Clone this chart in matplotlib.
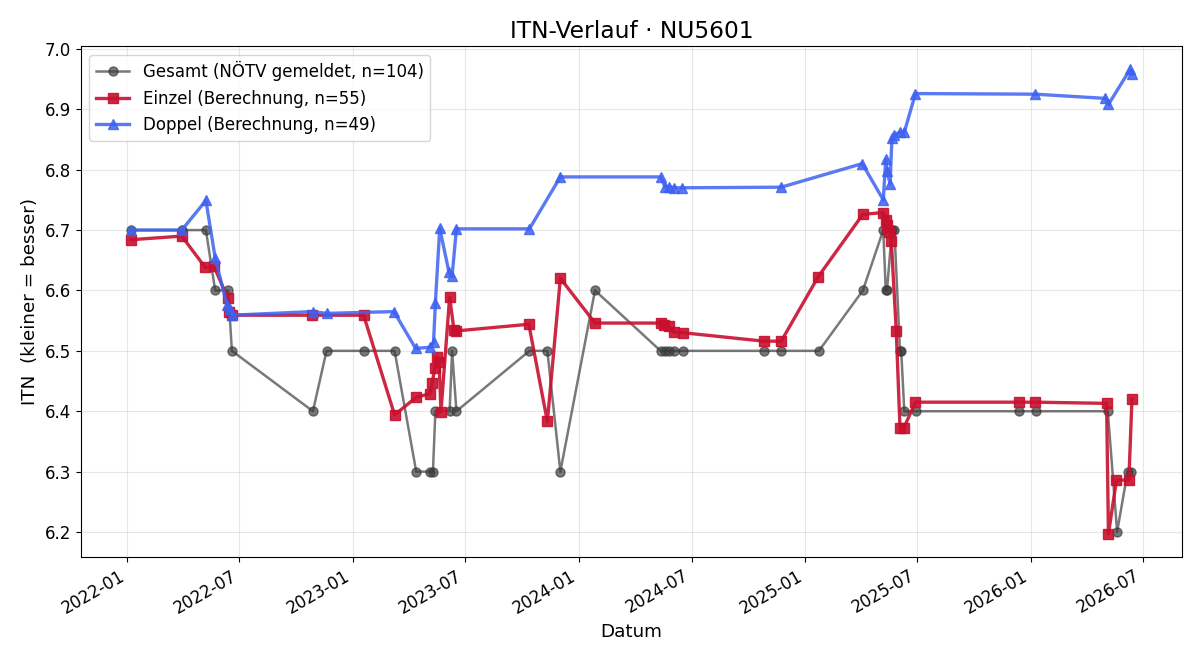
import matplotlib
matplotlib.use("Agg")
import matplotlib.pyplot as plt
import matplotlib.dates as mdates
import pandas as pd

# ---- data ----
gesamt_dates = [
    "2022-01-07", "2022-03-30", "2022-05-08", "2022-05-23", "2022-06-13", "2022-06-19",
    "2022-10-28", "2022-11-19", "2023-01-18", "2023-03-09", "2023-04-13", "2023-05-06",
    "2023-05-10", "2023-05-14", "2023-06-06", "2023-06-10", "2023-06-17", "2023-10-13",
    "2023-11-11", "2023-12-02", "2024-01-27", "2024-05-12", "2024-05-19", "2024-05-25",
    "2024-06-02", "2024-06-17", "2024-10-26", "2024-11-23", "2025-01-23", "2025-04-04",
    "2025-05-07", "2025-05-11", "2025-05-13", "2025-05-21", "2025-05-25", "2025-06-03",
    "2025-06-05", "2025-06-10", "2025-06-29", "2025-12-12", "2026-01-09", "2026-05-05",
    "2026-05-20", "2026-06-06", "2026-06-12",
]
gesamt_values = [
    6.7, 6.7, 6.7, 6.6, 6.6, 6.5,
    6.4, 6.5, 6.5, 6.5, 6.3, 6.3,
    6.3, 6.4, 6.4, 6.5, 6.4, 6.5,
    6.5, 6.3, 6.6, 6.5, 6.5, 6.5,
    6.5, 6.5, 6.5, 6.5, 6.5, 6.6,
    6.7, 6.6, 6.6, 6.7, 6.7, 6.5,
    6.5, 6.4, 6.4, 6.4, 6.4, 6.4,
    6.2, 6.3, 6.3,
]

einzel_dates = [
    "2022-01-07", "2022-03-30", "2022-05-07", "2022-05-21", "2022-06-12", "2022-06-14",
    "2022-06-19", "2022-10-27", "2023-01-18", "2023-03-09", "2023-04-13", "2023-05-05",
    "2023-05-09", "2023-05-13", "2023-05-16", "2023-05-20", "2023-05-23", "2023-06-06",
    "2023-06-13", "2023-06-17", "2023-10-12", "2023-11-11", "2023-12-02", "2024-01-27",
    "2024-05-12", "2024-05-17", "2024-05-25", "2024-06-02", "2024-06-17", "2024-10-26",
    "2024-11-23", "2025-01-22", "2025-04-04", "2025-05-07", "2025-05-11", "2025-05-13",
    "2025-05-17", "2025-05-20", "2025-05-28", "2025-06-03", "2025-06-09", "2025-06-28",
    "2025-12-12", "2026-01-08", "2026-05-03", "2026-05-06", "2026-05-19", "2026-06-08",
    "2026-06-13",
]
einzel_values = [
    6.684, 6.690, 6.638, 6.640, 6.588, 6.565,
    6.559, 6.559, 6.559, 6.394, 6.423, 6.429,
    6.447, 6.472, 6.490, 6.481, 6.399, 6.589,
    6.535, 6.533, 6.544, 6.383, 6.620, 6.546,
    6.546, 6.543, 6.541, 6.531, 6.530, 6.516,
    6.516, 6.623, 6.726, 6.729, 6.717, 6.708,
    6.696, 6.682, 6.533, 6.373, 6.372, 6.415,
    6.415, 6.415, 6.413, 6.197, 6.286, 6.286,
    6.420,
]

doppel_dates = [
    "2022-01-07", "2022-03-30", "2022-05-08", "2022-05-23", "2022-06-11", "2022-06-16",
    "2022-06-19", "2022-10-28", "2022-11-19", "2023-03-08", "2023-04-12", "2023-05-06",
    "2023-05-11", "2023-05-14", "2023-05-21", "2023-06-05", "2023-06-10", "2023-06-17",
    "2023-10-13", "2023-12-02", "2024-05-12", "2024-05-19", "2024-05-25", "2024-06-02",
    "2024-06-16", "2024-11-23", "2025-04-03", "2025-05-07", "2025-05-11", "2025-05-13",
    "2025-05-18", "2025-05-21", "2025-05-25", "2025-06-03", "2025-06-10", "2025-06-28",
    "2026-01-08", "2026-05-01", "2026-05-06", "2026-06-10", "2026-06-13",
]
doppel_values = [
    6.700, 6.700, 6.749, 6.654, 6.576, 6.570,
    6.559, 6.565, 6.562, 6.565, 6.504, 6.506,
    6.514, 6.580, 6.703, 6.630, 6.624, 6.702,
    6.702, 6.788, 6.788, 6.772, 6.772, 6.770,
    6.770, 6.771, 6.810, 6.750, 6.817, 6.797,
    6.777, 6.853, 6.858, 6.862, 6.862, 6.926,
    6.925, 6.918, 6.908, 6.966, 6.958,
]

legend_labels = [
    "Gesamt (NÖTV gemeldet, n=104)",
    "Einzel (Berechnung, n=55)",
    "Doppel (Berechnung, n=49)",
]

# ---- plot ----
fig, ax = plt.subplots(figsize=(12, 6.6), dpi=100)
fig.subplots_adjust(left=0.0675, right=0.985, top=0.930, bottom=0.156)

ax.plot(pd.to_datetime(gesamt_dates), gesamt_values, "-o", color="#3a3a3a",
        alpha=0.68, lw=1.8, ms=6.5, label=legend_labels[0], zorder=2)
ax.plot(pd.to_datetime(einzel_dates), einzel_values, "-s", color="#C8102E",
        alpha=0.9, lw=2.4, ms=7, label=legend_labels[1], zorder=3)
ax.plot(pd.to_datetime(doppel_dates), doppel_values, "-^", color="#3d62f2",
        alpha=0.85, lw=2.4, ms=7, label=legend_labels[2], zorder=4)

ax.set_title("ITN-Verlauf · NU5601", fontsize=16.8)
ax.set_xlabel("Datum", fontsize=13.2)
ax.set_ylabel("ITN  (kleiner = besser)", fontsize=13.2)
ax.grid(True, alpha=0.3)

ax.xaxis.set_major_locator(mdates.MonthLocator(bymonth=[1, 7]))
ax.xaxis.set_major_formatter(mdates.DateFormatter("%Y-%m"))
for lbl in ax.get_xticklabels():
    lbl.set_rotation(30)
    lbl.set_ha("right")
ax.tick_params(labelsize=12)

ax.legend(loc="upper left", fontsize=12)

fig.savefig("out.png", dpi=100)
